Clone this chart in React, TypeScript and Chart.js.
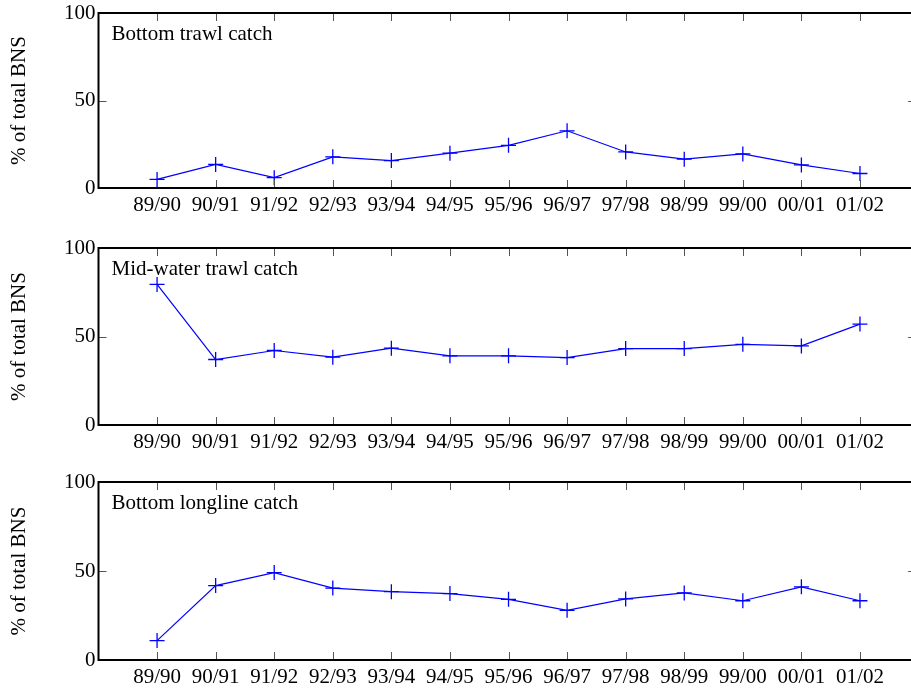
import React, { useEffect, useRef } from 'react';
import { Chart, registerables } from 'chart.js';
Chart.register(...registerables);

const seasons = ['89/90', '90/91', '91/92', '92/93', '93/94', '94/95', '95/96', '96/97', '97/98', '98/99', '99/00', '00/01', '01/02'];
const bottomTrawl = [4.9, 13.5, 5.9, 17.8, 15.7, 19.9, 24.4, 32.7, 20.6, 16.5, 19.5, 13.2, 8.3];
const midWaterTrawl = [79.4, 37.0, 42.1, 38.3, 43.4, 39.1, 39.1, 38.1, 43.2, 43.2, 45.6, 44.7, 57.0];
const bottomLongline = [10.9, 41.8, 49.1, 40.4, 38.4, 37.3, 34.1, 27.9, 34.3, 37.7, 33.3, 41.1, 33.3];
const panelTitles = ['Bottom trawl catch', 'Mid-water trawl catch', 'Bottom longline catch'];
const yTickValues = [0, 50, 100];
const yAxisTitle = '% of total BNS';

const FONT = "'Liberation Serif', 'Times New Roman', serif";
const PAD_TOP = 16;
const X_AXIS_H = 40;
const panels = [
  { title: panelTitles[0], values: bottomTrawl, top: 12.5, bottom: 188.3 },
  { title: panelTitles[1], values: midWaterTrawl, top: 247.5, bottom: 424.5 },
  { title: panelTitles[2], values: bottomLongline, top: 482, bottom: 660 },
];

const framePlugin = {
  id: 'frame',
  afterDatasetsDraw(chart: any) {
    const { ctx, chartArea: a, scales } = chart;
    const xs = scales.x;
    const ys = scales.y;
    ctx.save();
    // ticks
    ctx.strokeStyle = '#555';
    ctx.lineWidth = 1;
    ctx.beginPath();
    seasons.forEach((_, i) => {
      const px = Math.round(xs.getPixelForValue(i)) + 0.5;
      ctx.moveTo(px, a.top);
      ctx.lineTo(px, a.top + 8);
      ctx.moveTo(px, a.bottom);
      ctx.lineTo(px, a.bottom - 8);
    });
    yTickValues.forEach((v) => {
      const py = Math.round(ys.getPixelForValue(v)) + 0.5;
      ctx.moveTo(a.left, py);
      ctx.lineTo(a.left + 8, py);
      ctx.moveTo(a.right, py);
      ctx.lineTo(a.right - 8, py);
    });
    ctx.stroke();
    // box
    ctx.strokeStyle = '#000';
    ctx.lineWidth = 2;
    ctx.strokeRect(a.left, a.top, a.right - a.left, a.bottom - a.top);
    // panel title
    const t = chart.options.plugins.frame?.text;
    if (t) {
      ctx.fillStyle = '#000';
      ctx.font = `21px ${FONT}`;
      ctx.textBaseline = 'alphabetic';
      ctx.textAlign = 'left';
      ctx.fillText(t, a.left + 13, a.top + 26.5);
    }
    ctx.restore();
  },
};

function Panel({ title, values, top, bottom }: { title: string; values: number[]; top: number; bottom: number }) {
  const ref = useRef<HTMLCanvasElement | null>(null);
  const h = bottom - top;
  const canvasH = PAD_TOP + h + X_AXIS_H;
  useEffect(() => {
    if (!ref.current) return;
    const chart = new Chart(ref.current, {
      type: 'line',
      data: {
        datasets: [
          {
            data: values.map((v, i) => ({ x: i, y: v })),
            borderColor: '#0000ff',
            backgroundColor: '#0000ff',
            borderWidth: 1.2,
            pointStyle: 'cross',
            pointRadius: 7.5,
            pointBorderWidth: 1.3,
            pointBorderColor: '#0000ff',
            fill: false,
            tension: 0,
          },
        ],
      },
      plugins: [framePlugin],
      options: {
        responsive: false,
        animation: false,
        devicePixelRatio: 1,
        layout: { padding: { top: PAD_TOP, right: 8, left: 0, bottom: 0 } },
        plugins: {
          legend: { display: false },
          tooltip: { enabled: false },
          frame: { text: title },
        } as any,
        scales: {
          x: {
            type: 'linear',
            min: -1,
            max: 12.96,
            grid: { display: false, drawTicks: false },
            border: { display: false },
            afterFit: (s: any) => {
              s.height = X_AXIS_H;
            },
            afterBuildTicks: (s: any) => {
              s.ticks = seasons.map((_, i) => ({ value: i }));
            },
            ticks: {
              autoSkip: false,
              maxRotation: 0,
              padding: 5,
              color: '#000',
              font: { family: FONT, size: 21 },
              callback: (v: any) => seasons[v as number] ?? '',
            },
          },
          y: {
            min: 0,
            max: 100,
            grid: { display: false, drawTicks: false },
            border: { display: false },
            afterFit: (s: any) => {
              s.width = 98.5;
            },
            afterBuildTicks: (s: any) => {
              s.ticks = yTickValues.map((v) => ({ value: v }));
            },
            ticks: {
              padding: 3,
              color: '#000',
              font: { family: FONT, size: 21 },
            },
            title: {
              display: true,
              text: yAxisTitle,
              color: '#000',
              font: { family: FONT, size: 21 },
              padding: { top: 7, bottom: 0 },
            },
          },
        },
      } as any,
    });
    return () => chart.destroy();
  }, []);
  return (
    <canvas
      ref={ref}
      width={925}
      height={canvasH}
      style={{ position: 'absolute', left: 0, top: top - PAD_TOP, width: 925, height: canvasH }}
    />
  );
}

export default function App() {
  return (
    <div style={{ position: 'fixed', left: 0, top: 0, width: 911, height: 690, overflow: 'hidden', background: '#fff' }}>
      {panels.map((p) => (
        <Panel key={p.title} {...p} />
      ))}
    </div>
  );
}
